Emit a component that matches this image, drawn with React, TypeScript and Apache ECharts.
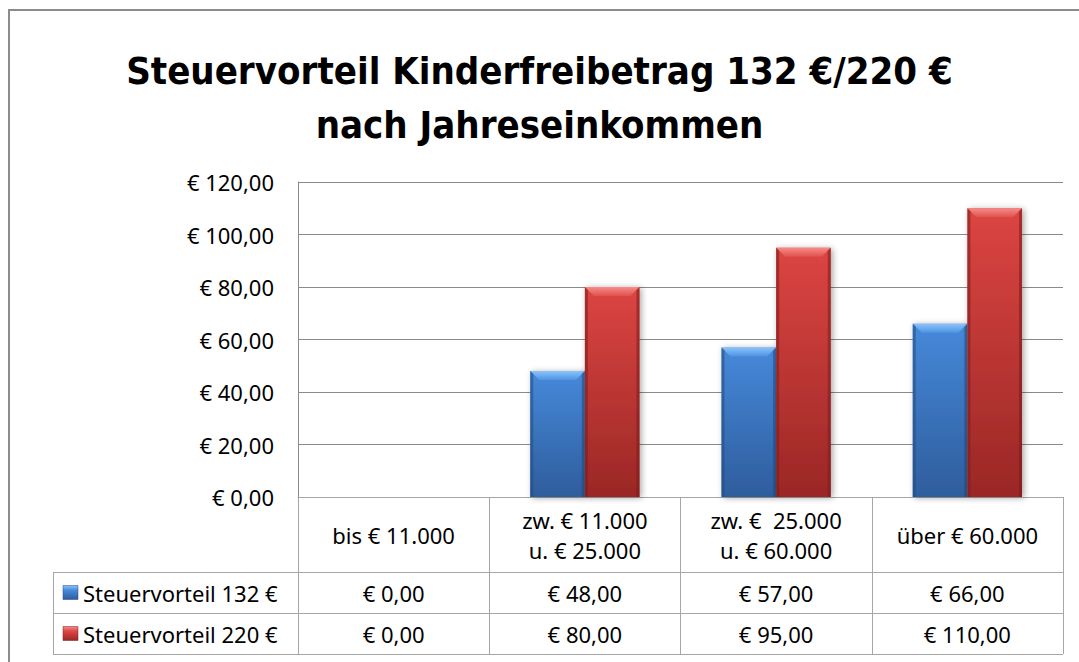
import React, { useEffect, useRef } from "react";
import * as echarts from "echarts";

const categories = [
  "bis € 11.000",
  "zw. € 11.000\nu. € 25.000",
  "zw. €  25.000\nu. € 60.000",
  "über € 60.000",
];
const seriesNames = ["Steuervorteil 132 €", "Steuervorteil 220 €"];
const values132 = [0, 48, 57, 66];
const values220 = [0, 80, 95, 110];
const yMin = 0;
const yMax = 120;
const yInterval = 20;

const titleText = "Steuervorteil Kinderfreibetrag 132 €/220 €\nnach Jahreseinkommen";

const FONT = "'Noto Sans', 'Open Sans', sans-serif";
const TITLE_FONT = "'Liberation Sans Narrow', 'DejaVu Sans Condensed', 'Noto Sans', sans-serif";
const FS = 22;

const W = 1079;
const H = 662;
const GRID_LEFT = 298;
const GRID_RIGHT = 16;
const GRID_TOP = 182;
const GRID_BOTTOM = 165;
const AXIS_Y = H - GRID_BOTTOM; // 497
const TABLE_LEFT = 53;
const HEADER_BOTTOM = 572;
const ROW1_BOTTOM = 613;
const ROW2_BOTTOM = 654;
const LINE_COLOR = "#a6a6a6";
const GRID_COLOR = "#8a8a8a";

const palettes = [
  {
    faceTop: "#4689da",
    faceBottom: "#2e5d9c",
    bevelTop: "#8cc4fa",
    bevelBottom: "#4f93e2",
    edge: "#234b80",
  },
  {
    faceTop: "#dc4542",
    faceBottom: "#9a2725",
    bevelTop: "#f58c88",
    bevelBottom: "#e0524e",
    edge: "#7a1c1a",
  },
];

const fmt = (v: number) => "€ " + v.toFixed(2).replace(".", ",");

function makeRender(seriesIdx: number) {
  const p = palettes[seriesIdx];
  return (params: any, api: any) => {
    const ci = api.value(0);
    const v = api.value(1);
    const topPt = api.coord([ci, v]);
    const basePt = api.coord([ci, 0]);
    const catW = api.size([1, 0])[0];
    const bw = catW / 3.5;
    const left = topPt[0] - bw + seriesIdx * bw;
    const right = left + bw;
    const y0 = topPt[1];
    const y1 = basePt[1];
    const h = y1 - y0;
    if (h < 1) return null;
    const b = Math.min(9, h / 2);
    return {
      type: "group",
      children: [
        {
          type: "rect",
          shape: { x: left, y: y0, width: bw, height: h },
          style: {
            fill: new echarts.graphic.LinearGradient(0, 0, 0, 1, [
              { offset: 0, color: p.faceTop },
              { offset: 1, color: p.faceBottom },
            ]),
            shadowBlur: 6,
            shadowOffsetX: 2,
            shadowOffsetY: 1,
            shadowColor: "rgba(0,0,0,0.35)",
          },
        },
        {
          type: "polygon",
          shape: {
            points: [
              [left, y0],
              [right, y0],
              [right - b, y0 + b],
              [left + b, y0 + b],
            ],
          },
          style: {
            fill: new echarts.graphic.LinearGradient(0, 0, 0, 1, [
              { offset: 0, color: p.bevelTop },
              { offset: 1, color: p.bevelBottom },
            ]),
          },
        },
        {
          type: "polygon",
          shape: {
            points: [
              [left, y0],
              [left + 3, y0 + 3],
              [left + 3, y1],
              [left, y1],
            ],
          },
          style: { fill: p.edge, opacity: 0.55 },
        },
        {
          type: "polygon",
          shape: {
            points: [
              [right, y0],
              [right - 3, y0 + 3],
              [right - 3, y1],
              [right, y1],
            ],
          },
          style: { fill: p.edge, opacity: 0.55 },
        },
      ],
    };
  };
}

export default function App() {
  const ref = useRef<HTMLDivElement>(null);

  useEffect(() => {
    document.body.style.margin = "0";
    if (!ref.current) return;
    const chart = echarts.init(ref.current, undefined, { renderer: "svg" });

    const rowCenter1 = (HEADER_BOTTOM + ROW1_BOTTOM) / 2;
    const rowCenter2 = (ROW1_BOTTOM + ROW2_BOTTOM) / 2;
    const headerCenter = (AXIS_Y + HEADER_BOTTOM) / 2;

    const hLines = [HEADER_BOTTOM, ROW1_BOTTOM, ROW2_BOTTOM].map((y) => ({
      type: "line",
      shape: { x1: TABLE_LEFT, y1: y + 0.5, x2: W - GRID_RIGHT, y2: y + 0.5 },
      style: { stroke: LINE_COLOR, lineWidth: 1 },
      silent: true,
    }));

    const legendKeys = seriesNames.map((name, i) => {
      const cy = i === 0 ? rowCenter1 : rowCenter2;
      const p = palettes[i];
      return {
        type: "group",
        children: [
          {
            type: "rect",
            shape: { x: 63, y: cy - 7, width: 15, height: 14 },
            style: {
              fill: new echarts.graphic.LinearGradient(0, 0, 0, 1, [
                { offset: 0, color: p.bevelTop },
                { offset: 0.35, color: p.faceTop },
                { offset: 1, color: p.faceBottom },
              ]),
              stroke: p.edge,
              lineWidth: 0.5,
            },
          },
          {
            type: "text",
            style: {
              x: 83,
              y: cy,
              text: name,
              font: `${FS}px ${FONT}`,
              fill: "#000",
              align: "left",
              verticalAlign: "middle",
            },
          },
        ],
      };
    });

    const option: any = {
      animation: false,
      backgroundColor: "#fff",
      title: {
        text: titleText,
        left: "center",
        top: 39,
        textStyle: {
          fontFamily: TITLE_FONT,
          fontWeight: "bold",
          fontSize: 38,
          lineHeight: 54,
          color: "#000",
        },
      },
      grid: {
        left: GRID_LEFT,
        right: GRID_RIGHT,
        top: GRID_TOP,
        bottom: GRID_BOTTOM,
        containLabel: false,
      },
      xAxis: [
        {
          type: "category",
          data: categories,
          position: "bottom",
          axisLine: { show: true, lineStyle: { color: LINE_COLOR, width: 1 } },
          axisTick: {
            show: true,
            length: ROW2_BOTTOM - AXIS_Y,
            lineStyle: { color: LINE_COLOR, width: 1 },
          },
          axisLabel: {
            margin: headerCenter - AXIS_Y,
            verticalAlign: "middle",
            fontFamily: FONT,
            fontSize: FS,
            lineHeight: 30,
            color: "#000",
            interval: 0,
          },
          splitLine: { show: false },
        },
        {
          type: "category",
          data: categories,
          position: "bottom",
          axisLine: { show: false },
          axisTick: { show: false },
          axisLabel: {
            margin: rowCenter1 - AXIS_Y,
            verticalAlign: "middle",
            fontFamily: FONT,
            fontSize: FS,
            color: "#000",
            interval: 0,
            formatter: (_: string, idx: number) => fmt(values132[idx]),
          },
        },
        {
          type: "category",
          data: categories,
          position: "bottom",
          axisLine: { show: false },
          axisTick: { show: false },
          axisLabel: {
            margin: rowCenter2 - AXIS_Y,
            verticalAlign: "middle",
            fontFamily: FONT,
            fontSize: FS,
            color: "#000",
            interval: 0,
            formatter: (_: string, idx: number) => fmt(values220[idx]),
          },
        },
      ],
      yAxis: {
        type: "value",
        min: yMin,
        max: yMax,
        interval: yInterval,
        axisLine: { show: true, lineStyle: { color: GRID_COLOR, width: 1 } },
        axisTick: { show: false },
        axisLabel: {
          margin: 24,
          fontFamily: FONT,
          fontSize: FS,
          color: "#000",
          formatter: (v: number) => fmt(v),
        },
        splitLine: { show: true, lineStyle: { color: GRID_COLOR, width: 1 } },
      },
      series: [
        {
          name: seriesNames[0],
          type: "custom",
          xAxisIndex: 0,
          renderItem: makeRender(0),
          encode: { x: 0, y: 1 },
          data: values132.map((v, i) => [i, v]),
          z: 3,
        },
        {
          name: seriesNames[1],
          type: "custom",
          xAxisIndex: 0,
          renderItem: makeRender(1),
          encode: { x: 0, y: 1 },
          data: values220.map((v, i) => [i, v]),
          z: 3,
        },
      ],
      graphic: [
        {
          type: "polyline",
          shape: {
            points: [
              [9, H + 10],
              [9, 10],
              [W + 10, 10],
            ],
          },
          style: { stroke: "#8c8c8c", lineWidth: 2, fill: "none" },
          silent: true,
        },
        ...hLines,
        {
          type: "line",
          shape: { x1: TABLE_LEFT + 0.5, y1: HEADER_BOTTOM, x2: TABLE_LEFT + 0.5, y2: ROW2_BOTTOM + 0.5 },
          style: { stroke: LINE_COLOR, lineWidth: 1 },
          silent: true,
        },
        ...legendKeys,
      ],
    };

    chart.setOption(option);
    return () => chart.dispose();
  }, []);

  return <div ref={ref} style={{ width: W, height: H }} />;
}
